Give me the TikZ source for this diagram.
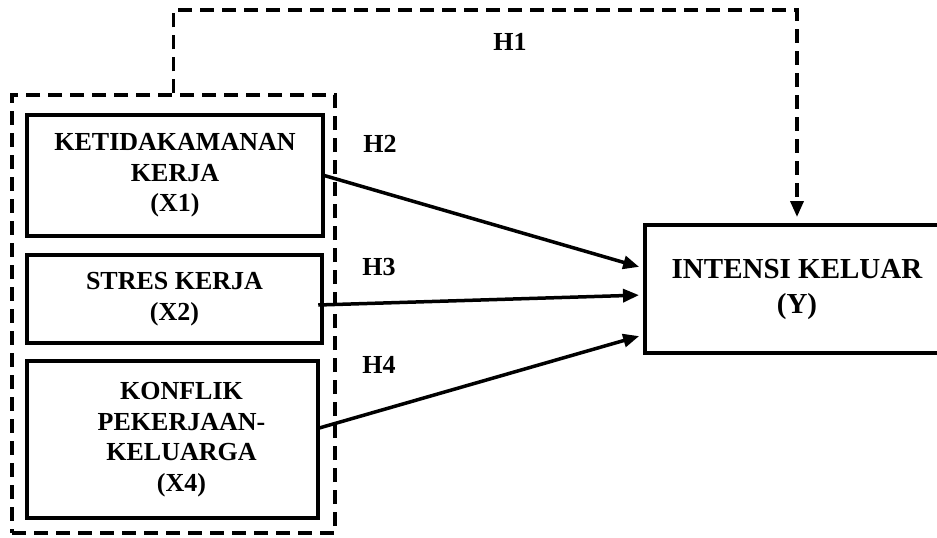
\documentclass[tikz,border=0pt]{standalone}
\usepackage{fontspec}
\setmainfont{Liberation Serif}
\usetikzlibrary{arrows.meta,calc}
\begin{document}
\begin{tikzpicture}[x=1pt,y=-1pt,
  varbox/.style={draw,line width=4.5pt,inner sep=0pt,align=center,
    font=\bfseries\fontsize{26}{30.5}\selectfont},
  grpbox/.style={draw,line width=3.5pt,dash pattern=on 14pt off 8pt,inner sep=0pt},
  hlabel/.style={font=\bfseries\fontsize{26}{30}\selectfont,inner sep=0pt},
  conn/.style={line width=3.5pt,-{Triangle[length=16pt,width=13pt]},shorten >=4pt},
  dconn/.style={line width=3.5pt,dash pattern=on 14pt off 8pt,-{Triangle[length=16pt,width=13pt]},shorten >=6pt}]
\useasboundingbox (0,0) rectangle (937,538);
\node[grpbox,minimum width=323pt,minimum height=438pt] (grp) at (173.5,314) {};
\node[varbox,minimum width=296pt,minimum height=121pt] (X1) at (175,175.5) {KETIDAKAMANAN\\KERJA\\(X1)};
\node[varbox,minimum width=295pt,minimum height=88pt] (X2) at (174.5,299) {STRES KERJA\\(X2)};
\node[varbox,minimum width=291pt,minimum height=157pt] (X4) at (172.5,439.5) {\hspace*{18pt}KONFLIK\\\hspace*{18pt}PEKERJAAN-\\\hspace*{18pt}KELUARGA\\\hspace*{18pt}(X4)};
\node[draw,line width=4pt,inner sep=0pt,align=center,minimum width=304pt,minimum height=128pt,
  font=\bfseries\fontsize{29}{35}\selectfont] (Y) at (797,289) {INTENSI KELUAR\\(Y)};
\coordinate (h1top) at (797,10);
\draw[dconn] (grp.north) |- (h1top) -- (Y.north);
\draw[conn] ($(X1.east)+(-1,0)$) -- ($(Y.west)+(0,-21)$);
\draw[conn] ($(X2.east)+(-6,6)$) -- ($(Y.west)+(0,6)$);
\draw[conn] ($(X4.east)+(-1,-11.5)$) -- ($(Y.west)+(0,46)$);
\node[hlabel] (h1) at (510,42) {H1};
\node[hlabel] (h2) at (380,144) {H2};
\node[hlabel] (h3) at (379,267) {H3};
\node[hlabel] (h4) at (379,365) {H4};
\end{tikzpicture}
\end{document}
